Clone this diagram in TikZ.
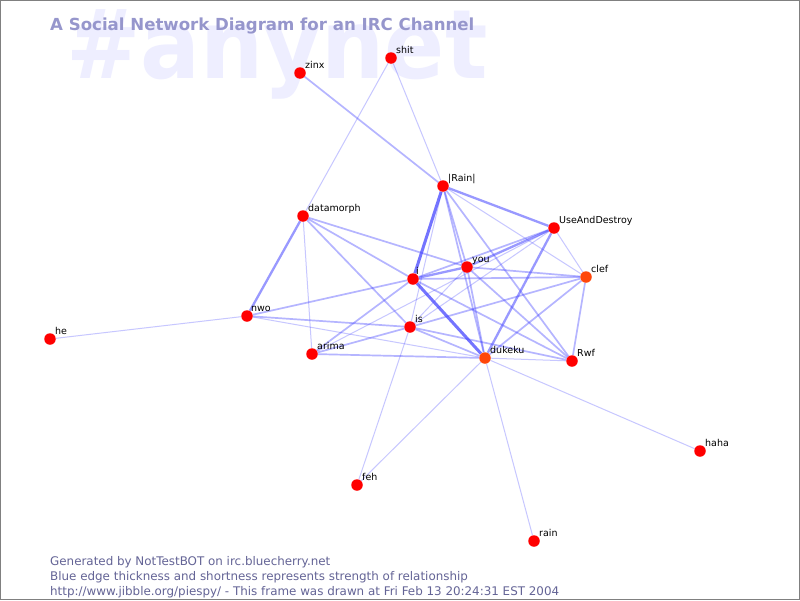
\documentclass[tikz,border=0pt]{standalone}
\usepackage{fontspec}
\setmainfont{DejaVu Sans}
\usetikzlibrary{backgrounds}
\definecolor{edgeblue}{RGB}{70,70,255}
\definecolor{titlecol}{RGB}{150,150,204}
\definecolor{footcol}{RGB}{100,100,150}
\definecolor{bgtext}{RGB}{238,238,255}
\definecolor{nodered}{RGB}{255,0,0}
\definecolor{nodeorange}{RGB}{255,70,10}
\tikzset{
  person/.style={circle,fill=nodered,draw=none,minimum size=11.5pt,inner sep=0pt},
  hotperson/.style={person,fill=nodeorange},
  nick/.style={anchor=base west,inner sep=0pt,font=\fontsize{9.5}{10}\selectfont,text=black},
  eA/.style={draw=edgeblue,draw opacity=0.3,line width=1pt},
  eB/.style={draw=edgeblue,draw opacity=0.4,line width=1.7pt},
  eC/.style={draw=edgeblue,draw opacity=0.55,line width=2.3pt},
  eD/.style={draw=edgeblue,draw opacity=0.75,line width=3pt},
  foot/.style={anchor=base west,inner sep=0pt,text=footcol,font=\fontsize{11.9}{12}\selectfont}
}
\begin{document}
\begin{tikzpicture}[x=1pt,y=-1pt]
\useasboundingbox (0,0) rectangle (800,600);
% nodes
\node[person] (zinx) at (300,73) {};
\node[person] (shit) at (391,58) {};
\node[person] (rainb) at (443,186) {};
\node[person] (datamorph) at (303,216) {};
\node[person] (uad) at (554,228) {};
\node[person] (you) at (467,267) {};
\node[person] (i) at (413,279) {};
\node[hotperson] (clef) at (586,277) {};
\node[person] (nwo) at (247,316) {};
\node[person] (is) at (410,327) {};
\node[person] (he) at (50,339) {};
\node[person] (arima) at (312,354) {};
\node[hotperson] (dukeku) at (485,358) {};
\node[person] (rwf) at (572,361) {};
\node[person] (haha) at (700,451) {};
\node[person] (feh) at (357,485) {};
\node[person] (rain) at (534,541) {};
% labels
\node[nick] (lzinx) at (305,68) {zinx};
\node[nick] (lshit) at (396,53) {shit};
\node[nick] (lrainb) at (448,181) {|Rain|};
\node[nick] (ldatamorph) at (308,211) {datamorph};
\node[nick] (luad) at (559,223) {UseAndDestroy};
\node[nick] (lyou) at (472,262) {you};
\node[nick] (li) at (416,274) {i};
\node[nick] (lclef) at (591,272) {clef};
\node[nick] (lnwo) at (251,311) {nwo};
\node[nick] (lis) at (415,322) {is};
\node[nick] (lhe) at (55,334) {he};
\node[nick] (larima) at (317,349) {arima};
\node[nick] (ldukeku) at (490,353) {dukeku};
\node[nick] (lrwf) at (577,356) {Rwf};
\node[nick] (lhaha) at (705,446) {haha};
\node[nick] (lfeh) at (362,480) {feh};
\node[nick] (lrain) at (539,536) {rain};
% title and footer
\node[anchor=base west,inner sep=0pt,text=titlecol,font=\bfseries\fontsize{16.6}{18}\selectfont] (title) at (50,30) {A Social Network Diagram for an IRC Channel};
\node[foot] (f1) at (50,565) {Generated by NotTestBOT on irc.bluecherry.net};
\node[foot] (f2) at (50,580) {Blue edge thickness and shortness represents strength of relationship};
\node[foot] (f3) at (50,595) {http://www.jibble.org/piespy/ - This frame was drawn at Fri Feb 13 20:24:31 EST 2004};
\begin{pgfonlayer}{background}
\fill[white] (0,0) rectangle (800,600);
\node[anchor=base west,inner sep=0pt,text=bgtext,font=\bfseries\fontsize{96}{96}\selectfont] (chan) at (66,78) {\scalebox{0.925}[1]{\#anynet}};
% thin edges
\draw[eA] (shit) -- (rainb);
\draw[eA] (shit) -- (datamorph);
\draw[eA] (he) -- (nwo);
\draw[eA] (haha) -- (dukeku);
\draw[eA] (rain) -- (dukeku);
\draw[eA] (feh) -- (dukeku);
\draw[eA] (feh) -- (is);
\draw[eA] (rainb) -- (is);
\draw[eA] (rainb) -- (clef);
\draw[eA] (uad) -- (clef);
\draw[eA] (uad) -- (is);
\draw[eA] (uad) -- (arima);
\draw[eA] (nwo) -- (dukeku);
\draw[eA] (datamorph) -- (arima);
\draw[eA] (you) -- (is);
\draw[eA] (dukeku) -- (rwf);
% medium edges
\draw[eB] (nwo) -- (i);
\draw[eB] (arima) -- (i);
\draw[eB] (you) -- (dukeku);
\draw[eB] (rainb) -- (dukeku);
\draw[eB] (rainb) -- (you);
\draw[eB] (rainb) -- (rwf);
\draw[eB] (is) -- (dukeku);
\draw[eB] (nwo) -- (is);
\draw[eB] (is) -- (rwf);
\draw[eB] (is) -- (clef);
\draw[eB] (i) -- (clef);
\draw[eB] (you) -- (clef);
\draw[eB] (clef) -- (dukeku);
\draw[eB] (clef) -- (rwf);
\draw[eB] (i) -- (rwf);
\draw[eB] (you) -- (rwf);
\draw[eB] (datamorph) -- (i);
\draw[eB] (datamorph) -- (is);
\draw[eB] (datamorph) -- (you);
\draw[eB] (arima) -- (dukeku);
\draw[eB] (arima) -- (is);
\draw[eB] (uad) -- (i);
\draw[eB] (zinx) -- (rainb);
% strong edges
\draw[eC] (datamorph) -- (nwo);
\draw[eC] (rainb) -- (uad);
\draw[eC] (uad) -- (you);
\draw[eC] (i) -- (you);
\draw[eD] (rainb) -- (i);
\draw[eD] (i) -- (dukeku);
\draw[eC] (uad) -- (dukeku);
\end{pgfonlayer}
\draw[gray,line width=1pt] (0.5,0.5) rectangle (799.5,599.5);
\end{tikzpicture}
\end{document}
